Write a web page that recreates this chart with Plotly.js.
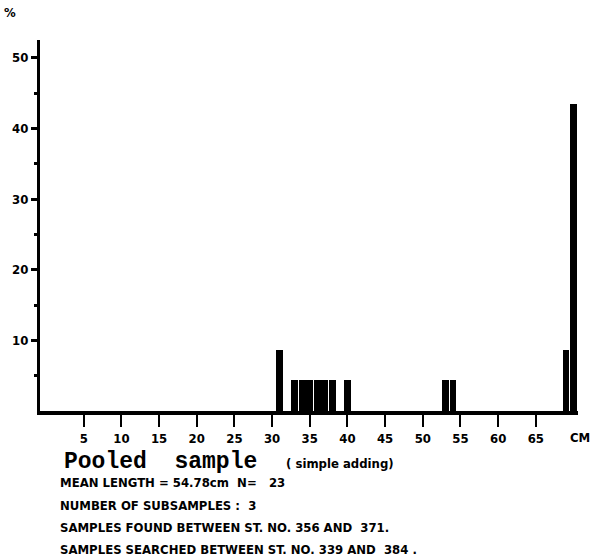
<!DOCTYPE html>
<html><head><meta charset="utf-8">
<script src="https://cdn.plot.ly/plotly-3.0.1.min.js"></script>
<style>body{margin:0;background:#fff}#c{width:599px;height:560px}</style>
</head><body><div id="c"></div>
<script>
const lengthsCm = [31, 33, 34, 35, 36, 37, 38, 40, 53, 54, 69, 70];
const percent = [8.70, 4.35, 4.35, 4.35, 4.35, 4.35, 4.35, 4.35, 4.35, 4.35, 8.70, 43.48];
const xTicks = [5, 10, 15, 20, 25, 30, 35, 40, 45, 50, 55, 60, 65];
const yTicks = [10, 20, 30, 40, 50];
const titleText = "Pooled  sample";
const subtitleText = "( simple adding)";
const infoLines = [
  "MEAN LENGTH = 54.78cm  N=   23",
  "NUMBER OF SUBSAMPLES :  3",
  "SAMPLES FOUND BETWEEN ST. NO. 356 AND  371.",
  "SAMPLES SEARCHED BETWEEN ST. NO. 339 AND  384 ."
];

const tickFont = {family: "DejaVu Sans Condensed", size: 13, color: "#000", weight: 700};
const infoFont = {family: "DejaVu Sans Condensed", size: 13, color: "#000", weight: 700};

const annotations = [
  {text: "%", xref: "paper", yref: "paper", x: -0.055, y: 1.075, xanchor: "center", yanchor: "middle", showarrow: false, font: tickFont},
  {text: "CM", xref: "paper", yref: "paper", x: 1.004, y: -0.072, xanchor: "center", yanchor: "middle", showarrow: false, font: tickFont},
  {text: titleText, xref: "paper", yref: "paper", x: 0.041, y: -0.138, xanchor: "left", yanchor: "middle", showarrow: false,
   font: {family: "Liberation Mono", size: 23, color: "#000", weight: 700}},
  {text: subtitleText, xref: "paper", yref: "paper", x: 0.453, y: -0.141, xanchor: "left", yanchor: "middle", showarrow: false,
   font: {family: "DejaVu Sans Condensed", size: 13, color: "#000", weight: 700}}
];
const lineY = [-0.192, -0.254, -0.313, -0.372];
infoLines.forEach((t, i) => annotations.push({
  text: t, xref: "paper", yref: "paper", x: 0.033, y: lineY[i], xanchor: "left", yanchor: "middle",
  showarrow: false, font: infoFont
}));

Plotly.newPlot("c", [{
  type: "bar", x: lengthsCm, y: percent, width: 0.9,
  marker: {color: "#000", line: {width: 0}}
}], {
  width: 599, height: 560,
  margin: {l: 40, r: 21, t: 40, b: 149},
  paper_bgcolor: "#fff", plot_bgcolor: "#fff",
  showlegend: false,
  bargap: 0,
  xaxis: {
    range: [-0.8, 70.6], tickmode: "array", tickvals: xTicks, ticktext: xTicks.map(String),
    ticks: "outside", ticklen: 12, tickwidth: 2, tickcolor: "#000",
    showline: true, linewidth: 4, linecolor: "#000", showgrid: false, zeroline: false,
    tickfont: tickFont
  },
  yaxis: {
    range: [0, 52.5], tickmode: "array", tickvals: yTicks, ticktext: yTicks.map(String),
    ticks: "outside", ticklen: 6, tickwidth: 3, tickcolor: "#000",
    minor: {tickvals: [5, 15, 25, 35, 45], ticks: "outside", ticklen: 3, tickwidth: 3, tickcolor: "#000"},
    showline: true, linewidth: 3, linecolor: "#000", showgrid: false, zeroline: false,
    tickfont: tickFont
  },
  annotations: annotations
}, {staticPlot: true});
</script></body></html>
